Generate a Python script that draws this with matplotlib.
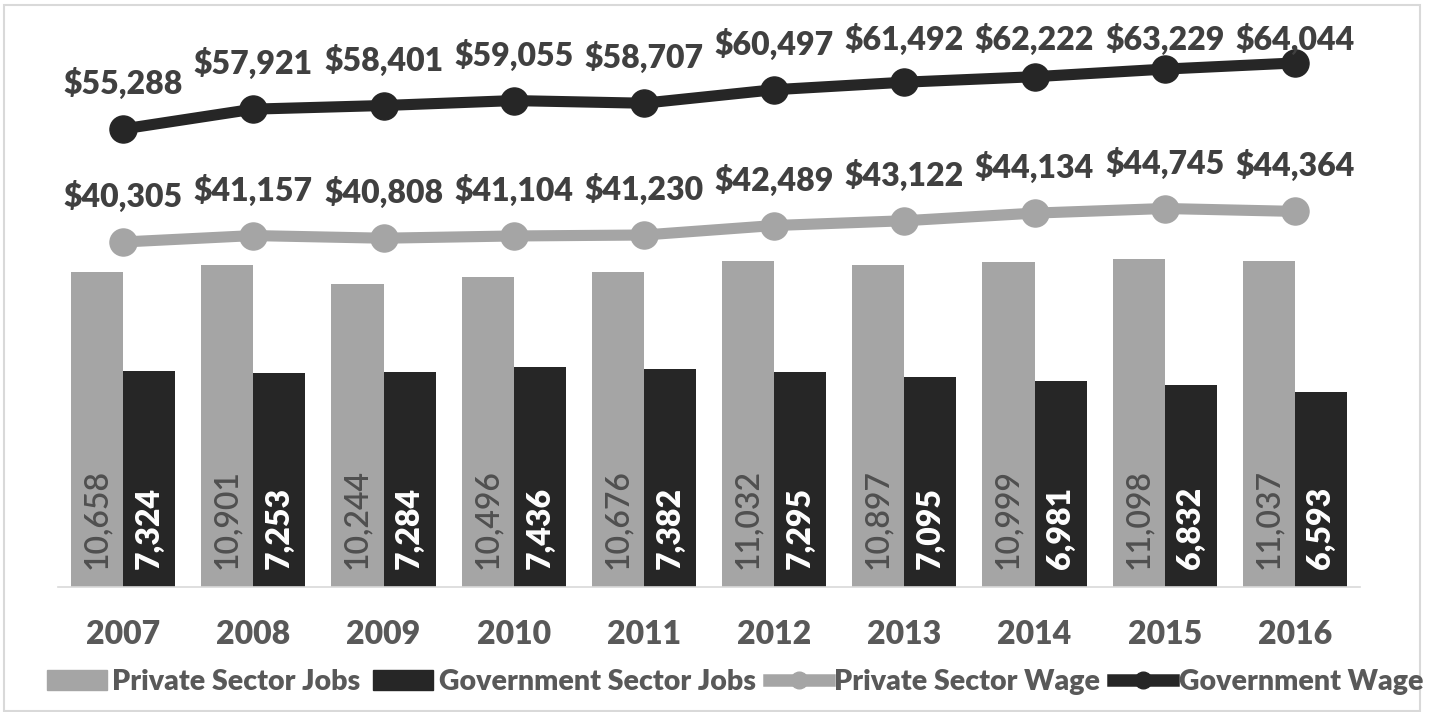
import matplotlib
matplotlib.use("Agg")
import matplotlib.pyplot as plt
import numpy as np
from matplotlib.patches import Patch, Rectangle
from matplotlib.lines import Line2D

plt.rcParams['font.family'] = ['Lato', 'DejaVu Sans']

# data
years = ['2007', '2008', '2009', '2010', '2011', '2012', '2013', '2014', '2015', '2016']
private_jobs = [10658, 10901, 10244, 10496, 10676, 11032, 10897, 10999, 11098, 11037]
gov_jobs = [7324, 7253, 7284, 7436, 7382, 7295, 7095, 6981, 6832, 6593]
private_wage = [40305, 41157, 40808, 41104, 41230, 42489, 43122, 44134, 44745, 44364]
gov_wage = [55288, 57921, 58401, 59055, 58707, 60497, 61492, 62222, 63229, 64044]

light = '#A5A5A5'
dark = '#262626'
text_dark = '#404040'
text_mid = '#595959'

W, H = 1431, 712
fig = plt.figure(figsize=(W / 100, H / 100), dpi=100)
ax_h = 567
ax = fig.add_axes([58 / W, 125 / H, (1360 - 58) / W, ax_h / H])

x = np.arange(len(years))
width = 0.4

#bars
ax.bar(x - width / 2, private_jobs, width, color=light)
ax.bar(x + width / 2, gov_jobs, width, color=dark)
ax.set_xlim(-0.5, 9.5)
ax.set_ylim(0, 19200)

#bar labels inside base
for xi, v in zip(x, private_jobs):
    ax.annotate(f'{v:,}', (xi - width / 2, 0), xytext=(0, 13), textcoords='offset points',
                rotation=90, ha='center', va='bottom', fontsize=23, color='#505050',
                fontweight='semibold')
for xi, v in zip(x, gov_jobs):
    ax.annotate(f'{v:,}', (xi + width / 2, 0), xytext=(0, 13), textcoords='offset points',
                rotation=90, ha='center', va='bottom', fontsize=23, color='white', fontweight='heavy')

#wage lines on second axis
ax2 = ax.twinx()
y2min, y2max = -5440, 69740
ax2.set_ylim(y2min, y2max)
ax2.plot(x, private_wage, color=light, lw=8, marker='o', ms=19.5, solid_capstyle='round')
ax2.plot(x, gov_wage, color=dark, lw=8, marker='o', ms=19.5, solid_capstyle='round')

per_px = (y2max - y2min) / ax_h
offset = 46 * per_px
cap = y2max - 19 * per_px
for series in (private_wage, gov_wage):
    for xi, v in zip(x, series):
        ax2.text(xi, min(v + offset, cap), f'${v:,}', ha='center', va='center',
                 fontsize=23, fontweight='heavy', color=text_dark)

#axes styling
for a in (ax, ax2):
    for s in ('top', 'left', 'right'):
        a.spines[s].set_visible(False)
    a.set_yticks([])
ax2.spines['bottom'].set_visible(False)
ax.spines['bottom'].set_color('#D9D9D9')
ax.spines['bottom'].set_linewidth(1.2)
ax.set_xticks(x, years)
ax.tick_params(axis='x', length=0, pad=24, labelsize=23, labelcolor=text_mid)
for t in ax.get_xticklabels():
    t.set_fontweight('heavy')

#legend
handles = [Patch(color=light), Patch(color=dark),
           Line2D([], [], color=light, lw=9, marker='o', ms=12),
           Line2D([], [], color=dark, lw=9, marker='o', ms=12)]
labels = ['Private Sector Jobs', 'Government Sector Jobs', 'Private Sector Wage', 'Government Wage']
fig.legend(handles, labels, loc='center', bbox_to_anchor=(735 / W, 1 - 682 / H), ncol=4,
           frameon=False, prop={'size': 20.5, 'weight': 'heavy'}, labelcolor=text_mid,
           handlelength=2.1, handletextpad=0.2, columnspacing=0.45)

#chart border
fig.patches.append(Rectangle((4 / W, 1 / H), 1416 / W, 706 / H, transform=fig.transFigure,
                             fill=False, ec='#D9D9D9', lw=1.5))

fig.savefig('out.png', dpi=100)
